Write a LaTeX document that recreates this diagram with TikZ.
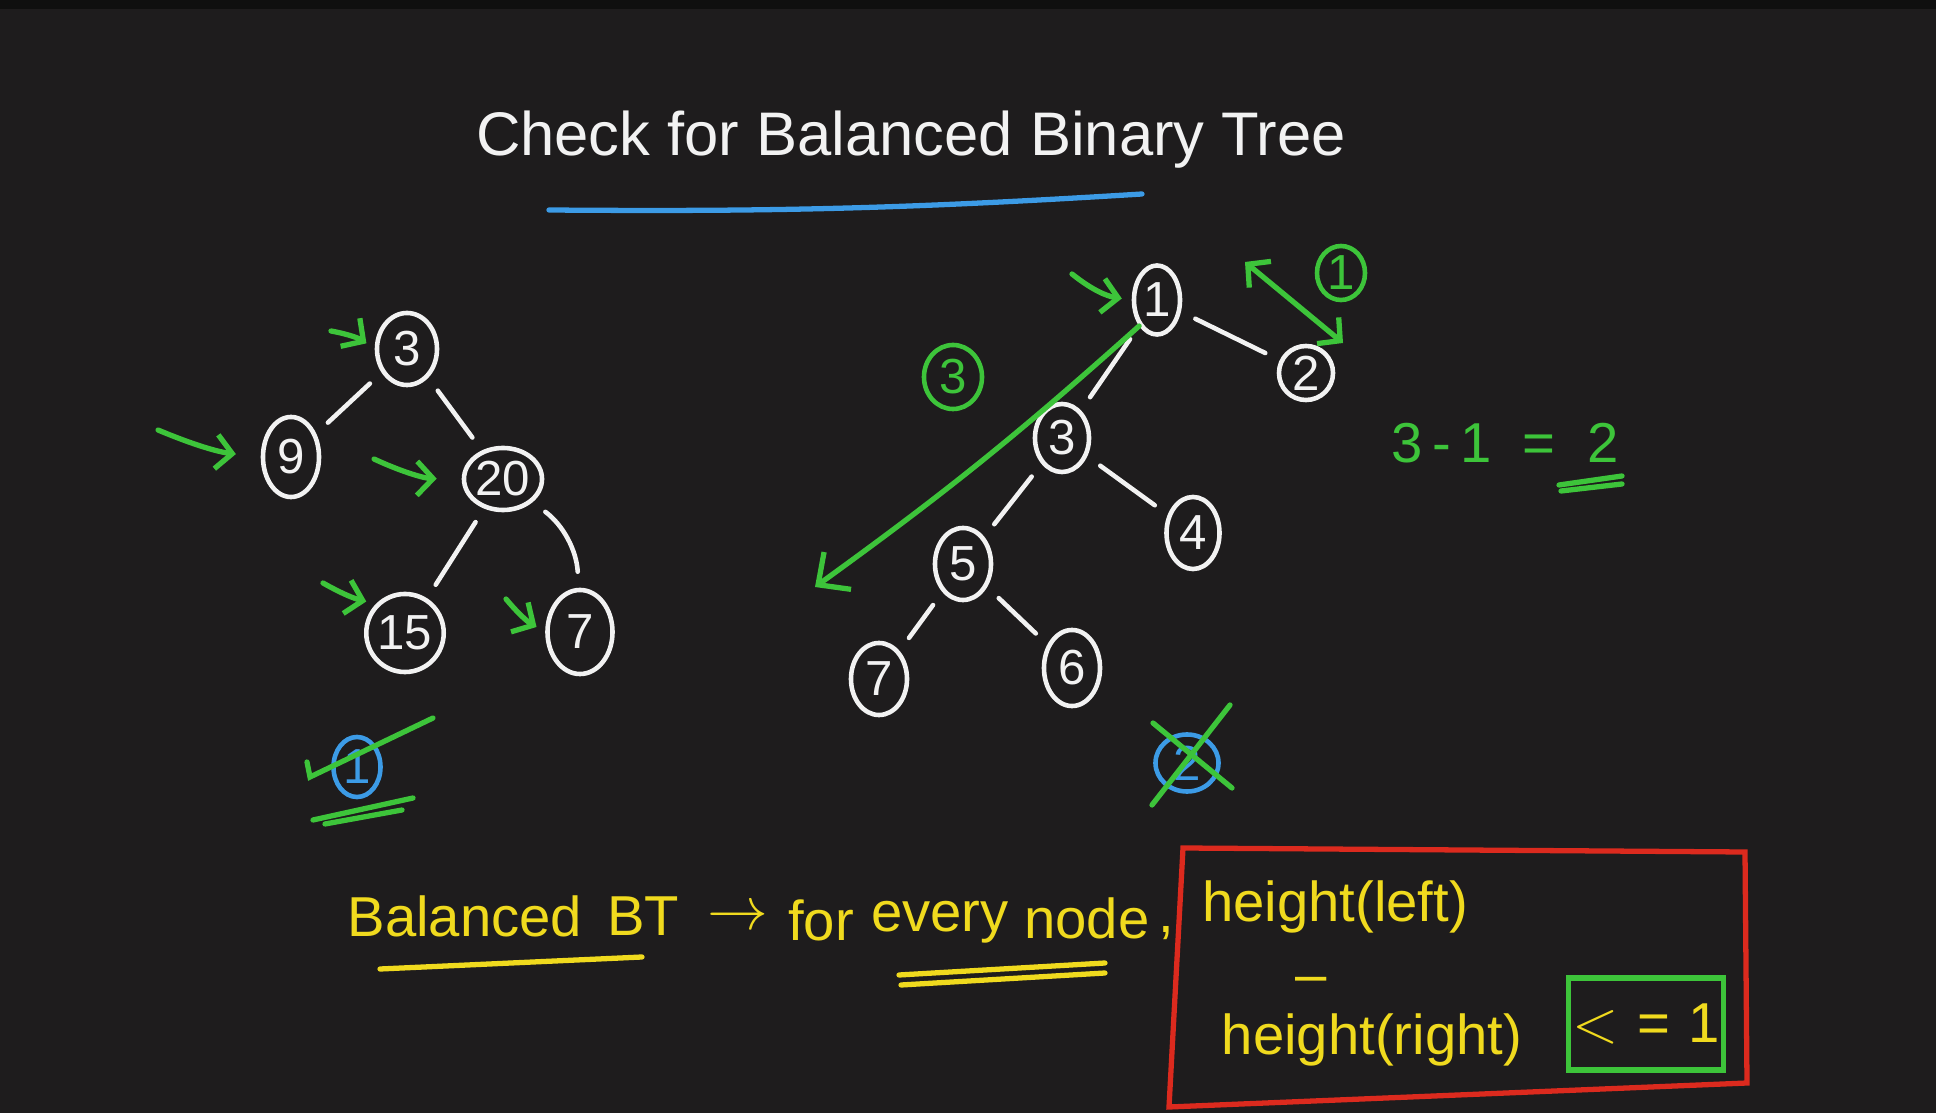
\documentclass[tikz,border=0pt]{standalone}
\usepackage{fontspec}
\setmainfont{Liberation Sans}
\usetikzlibrary{arrows.meta, shapes.geometric}
\definecolor{bgdark}{HTML}{1E1C1D}
\definecolor{bgtop}{HTML}{0F0F0F}
\definecolor{penwhite}{HTML}{F2F2F2}
\definecolor{pengreen}{HTML}{3DC43A}
\definecolor{penblue}{HTML}{3C9BE6}
\definecolor{penyellow}{HTML}{F0DA1E}
\definecolor{penred}{HTML}{DC2A1E}
\tikzset{
  tnode/.style={ellipse, draw=penwhite, line width=1.3pt, text=penwhite, inner sep=0pt, minimum width=5.6mm, minimum height=7.2mm, font=\fontsize{14}{16}\selectfont},
  tedge/.style={draw=penwhite, line width=1.3pt, line cap=round, shorten <=1.6mm, shorten >=1.6mm},
  tmark/.style={tnode, draw=pengreen, text=pengreen},
  tres/.style={tnode, draw=penblue, text=penblue},
  tflow/.style={-{Straight Barb[length=1.6mm, width=3.4mm]}, line width=1.5pt, pengreen, line cap=round},
  tstroke/.style={line width=1.5pt, line cap=round},
  ttitle/.style={text=penwhite, inner sep=0pt, font=\fontsize{17.5}{20}\selectfont},
  tlbl/.style={text=penyellow, inner sep=0pt, font=\fontsize{16}{19}\selectfont},
}
\begin{document}
\begin{tikzpicture}[x=0.01cm, y=-0.01cm]
  % page
  \fill[bgdark] (0,0) rectangle (1936,1113);
  \fill[bgtop] (0,0) rectangle (1936,9);
  \useasboundingbox (0,0) rectangle (1936,1113);

  % title
  \node[ttitle] (title) at (911,140) {Check for Balanced Binary Tree};
  \draw[tstroke, penblue] (549,210) to[bend right=2] (1142,194);

  % left tree
  \node[tnode, minimum width=6mm, minimum height=7.2mm] (a3) at (407,349) {3};
  \node[tnode, minimum height=8mm] (a9) at (291,457) {9};
  \node[tnode, minimum width=7.8mm, minimum height=6.2mm] (a20) at (503,479) {20};
  \node[tnode, minimum width=5.8mm, minimum height=7.8mm] (a15) at (405,633) {15};
  \node[tnode, minimum width=6.5mm, minimum height=8.4mm] (a7) at (580,632) {7};
  \draw[tedge] (a3) -- (a9);
  \draw[tedge] (a3) -- (a20);
  \draw[tedge] (a20) -- (a15);
  \draw[tedge] (a20) to[bend left=25] (a7);

  \coordinate (g3) at (331,331);
  \coordinate (g9) at (158,430);
  \coordinate (g20) at (374,459);
  \coordinate (g15) at (323,583);
  \coordinate (g7) at (506,599);
  \draw[tflow, shorten >=1mm] (g3) to[bend left=12] (a3.west);
  \draw[tflow, shorten >=2.5mm] (g9) to[bend right=8] (a9.west);
  \draw[tflow, shorten >=2.5mm] (g20) to[bend right=12] (a20.west);
  \draw[tflow, shorten >=1mm] (g15) to[bend right=8] (a15.north west);
  \draw[tflow, shorten >=1mm] (g7) to[bend right=10] (a7.west);

  \node[tres, minimum width=4.7mm, minimum height=6mm] (res1) at (357,767) {1};
  \draw[tstroke, pengreen] (307,762) -- (310,777) -- (433,718);
  \draw[tstroke, pengreen] (313,820) -- (413,798);
  \draw[tstroke, pengreen] (325,824) -- (402,810);

  % right tree
  \node[tnode, minimum width=4.6mm, minimum height=6.9mm] (r1) at (1157,300) {1};
  \node[tnode, minimum width=5.4mm, minimum height=5.4mm] (r2) at (1306,373) {2};
  \node[tnode, minimum width=5.4mm, minimum height=6.8mm] (r3) at (1062,438) {3};
  \node[tnode, minimum width=5.3mm, minimum height=7.2mm] (r4) at (1193,533) {4};
  \node[tnode, minimum width=5.6mm, minimum height=7.2mm] (r5) at (963,564) {5};
  \node[tnode, minimum width=5.6mm, minimum height=7.2mm] (r7) at (879,679) {7};
  \node[tnode, minimum width=5.6mm, minimum height=7.6mm] (r6) at (1072,668) {6};
  \draw[tedge] (r1) -- (r2);
  \draw[tedge] (r1) -- (r3);
  \draw[tedge] (r3) -- (r4);
  \draw[tedge] (r3) -- (r5);
  \draw[tedge] (r5) -- (r7);
  \draw[tedge] (r5) -- (r6);

  \coordinate (g1) at (1072,274);
  \draw[tflow, shorten >=1mm] (g1) to[bend right=15] (r1.west);
  \coordinate (lend) at (815,587);
  \draw[tflow, -{Straight Barb[length=2.4mm, width=4.6mm]}] (r1.south west) to[bend left=3] (lend);
  \node[tmark, minimum width=5.8mm, minimum height=6.4mm] (h3) at (953,377) {3};

  \coordinate (up) at (1245,262);
  \coordinate (dn) at (1343,343);
  \draw[tflow, {Straight Barb[length=1.6mm, width=3.4mm]}-{Straight Barb[length=1.6mm, width=3.4mm]}] (up) -- (dn);
  \node[tmark, minimum width=4.8mm, minimum height=5.4mm] (h1) at (1341,273) {1};

  \node[text=pengreen, inner sep=0pt, font=\fontsize{16}{18}\selectfont] (diff) at (1505,443) {3\,-\,1 \ = \ 2};
  \draw[tstroke, pengreen] (1559,485) -- (1622,476);
  \draw[tstroke, pengreen] (1561,491) -- (1622,484);

  \node[tres, minimum width=6.3mm, minimum height=5.7mm] (res2) at (1187,763) {2};
  \draw[tstroke, pengreen] (1153,723) -- (1232,788);
  \draw[tstroke, pengreen] (1152,805) -- (1230,705);

  % definition
  \node[tlbl] (bal) at (465,916) {Balanced};
  \node[tlbl] (bt) at (643,916) {BT};
  \node[tlbl] (to) at (738,918) {$\rightarrow$};
  \node[tlbl] (for) at (821,920) {for};
  \node[tlbl] (every) at (940,922) {every};
  \node[tlbl] (nd) at (1087,918) {node};
  \node[tlbl] (comma) at (1166,933) {,};
  \draw[tstroke, penyellow] (380,969) -- (642,957);
  \draw[tstroke, penyellow] (899,975) -- (1105,963);
  \draw[tstroke, penyellow] (901,985) -- (1105,973);

  \draw[tstroke, penred] (1183,848) -- (1745,852) -- (1747,1083) -- (1169,1107) -- cycle;
  \node[tlbl] (hl) at (1335,907) {height(left)};
  \node[tlbl] (minus) at (1311,985) {--};
  \node[tlbl] (hr) at (1372,1040) {height(right)};
  \node[tlbl, draw=pengreen, line width=1.5pt, minimum width=15.5mm, minimum height=9.2mm] (le) at (1646,1024) {$<$\,\,=\,\,1};
\end{tikzpicture}
\end{document}
